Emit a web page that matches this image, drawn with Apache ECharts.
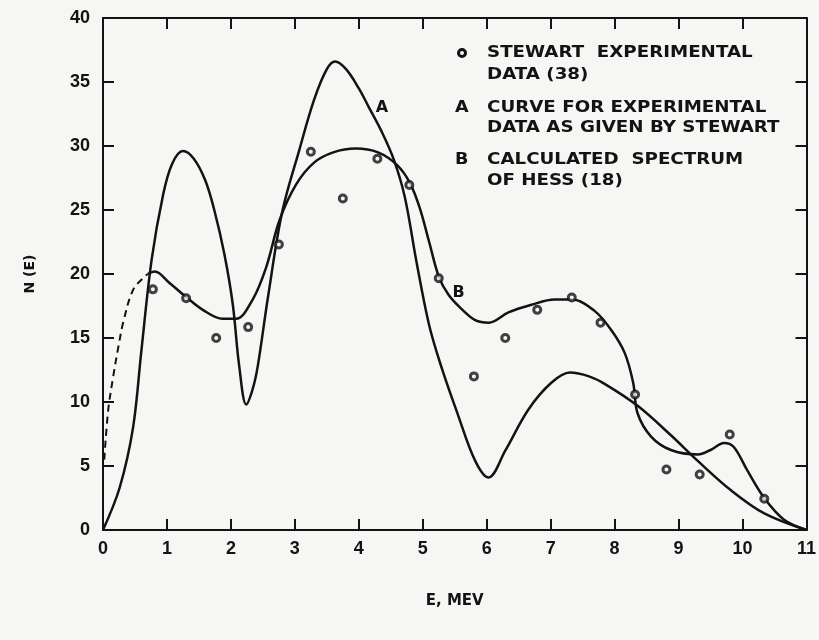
<!DOCTYPE html>
<html>
<head>
<meta charset="utf-8">
<script src="https://cdn.jsdelivr.net/npm/echarts@6/dist/echarts.min.js"></script>
<style>
  html, body { margin: 0; padding: 0; background: #f6f6f4; }
  #chart { width: 819px; height: 640px; }
</style>
</head>
<body>
<div id="chart"></div>
<script>
// Energy axis (MeV) and N(E) axis ranges / ticks
const xTickValues = [0, 1, 2, 3, 4, 5, 6, 7, 8, 9, 10, 11];
const yTickValues = [0, 5, 10, 15, 20, 25, 30, 35, 40];

// Stewart experimental data points [E, N(E)]
const stewartData = [
  [0.78, 18.8], [1.30, 18.1], [1.77, 15.0], [2.27, 15.85], [2.75, 22.3],
  [3.25, 29.55], [3.75, 25.9], [4.29, 29.0], [4.79, 26.95], [5.25, 19.67],
  [5.80, 12.0], [6.29, 15.0], [6.79, 17.2], [7.33, 18.17], [7.78, 16.2],
  [8.32, 10.58], [8.81, 4.73], [9.33, 4.34], [9.80, 7.46], [10.34, 2.44]
];

// Curve A: curve for experimental data as given by Stewart
const curveA = [
  [0, 0], [0.26, 3.3], [0.47, 8.0], [0.6, 14.0], [0.76, 21.1], [0.94, 26.2],
  [1.08, 28.6], [1.25, 29.6], [1.42, 29.0], [1.6, 27.3], [1.74, 25.0],
  [1.9, 21.5], [2.03, 17.6], [2.13, 12.8], [2.24, 9.8], [2.34, 11.0],
  [2.42, 12.8], [2.58, 18.2], [2.8, 24.8], [3.07, 29.7], [3.3, 33.6],
  [3.5, 36.0], [3.63, 36.6], [3.8, 36.0], [4.0, 34.5], [4.16, 33.0],
  [4.35, 31.2], [4.55, 28.9], [4.72, 26.0], [4.9, 21.0], [5.1, 16.0],
  [5.3, 12.6], [5.55, 9.0], [5.82, 5.4], [6.03, 4.1], [6.29, 6.2],
  [6.65, 9.4], [7.01, 11.5], [7.3, 12.3], [7.6, 12.0], [7.85, 11.4],
  [8.36, 9.7], [8.88, 7.4], [9.3, 5.4], [9.82, 3.1], [10.34, 1.3], [11, 0]
];

// Curve B: calculated spectrum of Hess (dashed extrapolation at low energy)
const curveBDashed = [
  [0.02, 5.5], [0.08, 9.3], [0.16, 12.0], [0.24, 14.3], [0.32, 16.3],
  [0.47, 18.75], [0.65, 19.8], [0.7, 20.0]
];
const curveB = [
  [0.7, 20.0], [0.81, 20.2], [1.04, 19.3], [1.3, 18.2], [1.56, 17.2],
  [1.87, 16.5], [2.08, 16.5], [2.34, 18.0], [2.55, 20.5], [2.76, 24.2],
  [3.02, 27.0], [3.3, 28.7], [3.6, 29.5], [3.95, 29.8], [4.3, 29.5],
  [4.6, 28.5], [4.8, 27.1], [4.95, 25.2], [5.1, 22.5], [5.25, 19.8],
  [5.4, 18.4], [5.6, 17.3], [5.82, 16.4], [6.03, 16.2], [6.34, 17.0],
  [6.7, 17.6], [7.06, 18.0], [7.33, 18.0], [7.69, 17.1], [7.95, 15.6],
  [8.16, 13.8], [8.29, 11.5], [8.36, 9.1], [8.57, 7.3], [8.88, 6.25],
  [9.3, 5.9], [9.5, 6.25], [9.71, 6.8], [9.86, 6.5], [10.07, 4.7],
  [10.34, 2.5], [10.65, 0.8], [11, 0]
];

// Curve letter tags placed next to the curves
const curveTags = [
  { name: 'A', coord: [4.36, 33.0] },
  { name: 'B', coord: [5.56, 18.5] }
];

// Key entries: marker text and wrapped description lines
const keyEntries = [
  { mark: null, lines: ['STEWART  EXPERIMENTAL', 'DATA (38)'] },
  { mark: 'A', lines: ['CURVE FOR EXPERIMENTAL', 'DATA AS GIVEN BY STEWART'] },
  { mark: 'B', lines: ['CALCULATED  SPECTRUM', 'OF HESS (18)'] }
];

const INK = '#131313';
const BG = '#f6f6f4';
const labelFont = { fontFamily: 'Liberation Sans', fontWeight: 'bold', fontSize: 18, color: INK };

const chart = echarts.init(document.getElementById('chart'), null, { renderer: 'canvas' });

const xMin = xTickValues[0], xMax = xTickValues[xTickValues.length - 1];
const yMin = yTickValues[0], yMax = yTickValues[yTickValues.length - 1];

function frameAxis(extra) {
  return Object.assign({
    type: 'value',
    axisLine: { show: true, onZero: false, lineStyle: { color: INK, width: 2 } },
    axisTick: { show: true, inside: true, length: 11, lineStyle: { color: INK, width: 2 } },
    splitLine: { show: false }
  }, extra);
}

// Legend-style key built from graphic text
const keyFont = 'bold 16px "DejaVu Sans"';
const keyGraphics = [];
const keyRows = [[53, 75], [108, 128], [160, 181]];
keyEntries.forEach((entry, i) => {
  const [y1, y2] = keyRows[i];
  if (entry.mark === null) {
    keyGraphics.push({
      type: 'circle', shape: { cx: 462, cy: y1, r: 3.5 },
      style: { fill: BG, stroke: INK, lineWidth: 3 }
    });
  } else {
    keyGraphics.push({
      type: 'text', x: 455, y: y1,
      style: { text: entry.mark, font: keyFont, fill: INK, verticalAlign: 'middle', align: 'left' },
      scaleX: 1.1
    });
  }
  [y1, y2].forEach((yy, j) => {
    keyGraphics.push({
      type: 'text', x: 487, y: yy,
      style: { text: entry.lines[j], font: keyFont, fill: INK, verticalAlign: 'middle', align: 'left' },
      scaleX: 1.14
    });
  });
});

const tagLabel = {
  show: true, formatter: p => p.name,
  fontFamily: 'DejaVu Sans', fontWeight: 'bold', fontSize: 16, color: INK
};

chart.setOption({
  backgroundColor: BG,
  animation: false,
  grid: { left: 103, right: 10, top: 18, bottom: 110, containLabel: false },
  xAxis: [
    frameAxis({
      position: 'bottom', min: xMin, max: xMax, interval: 1,
      name: 'E, MEV', nameLocation: 'middle', nameGap: 64,
      nameTextStyle: { fontFamily: 'DejaVu Sans', fontWeight: 'bold', fontSize: 15, color: INK },
      axisLabel: Object.assign({ margin: 10 }, labelFont)
    }),
    frameAxis({ position: 'top', min: xMin, max: xMax, interval: 1, axisLabel: { show: false } })
  ],
  yAxis: [
    frameAxis({
      position: 'left', min: yMin, max: yMax, interval: 5,
      name: 'N (E)', nameLocation: 'middle', nameGap: 66, nameRotate: 90,
      nameTextStyle: { fontFamily: 'DejaVu Sans', fontWeight: 'bold', fontSize: 14, color: INK },
      axisLabel: Object.assign({ margin: 13 }, labelFont)
    }),
    frameAxis({ position: 'right', min: yMin, max: yMax, interval: 5, axisLabel: { show: false } })
  ],
  graphic: keyGraphics,
  series: [
    {
      name: 'A', type: 'line', data: curveA, smooth: 0.35, showSymbol: false,
      lineStyle: { color: INK, width: 2.5 },
      markPoint: { symbol: 'circle', symbolSize: 0, label: tagLabel, data: [curveTags[0]] }
    },
    {
      name: 'B', type: 'line', data: curveB, smooth: 0.35, showSymbol: false,
      lineStyle: { color: INK, width: 2.5 },
      markPoint: { symbol: 'circle', symbolSize: 0, label: tagLabel, data: [curveTags[1]] }
    },
    {
      name: 'B (extrapolated)', type: 'line', data: curveBDashed, smooth: 0.35, showSymbol: false,
      lineStyle: { color: INK, width: 2, type: [7, 5] }
    },
    {
      name: 'Stewart', type: 'scatter', data: stewartData, symbol: 'circle', symbolSize: 7,
      itemStyle: { color: BG, borderColor: INK, borderWidth: 3 }, z: 5
    }
  ]
});
</script>
</body>
</html>
